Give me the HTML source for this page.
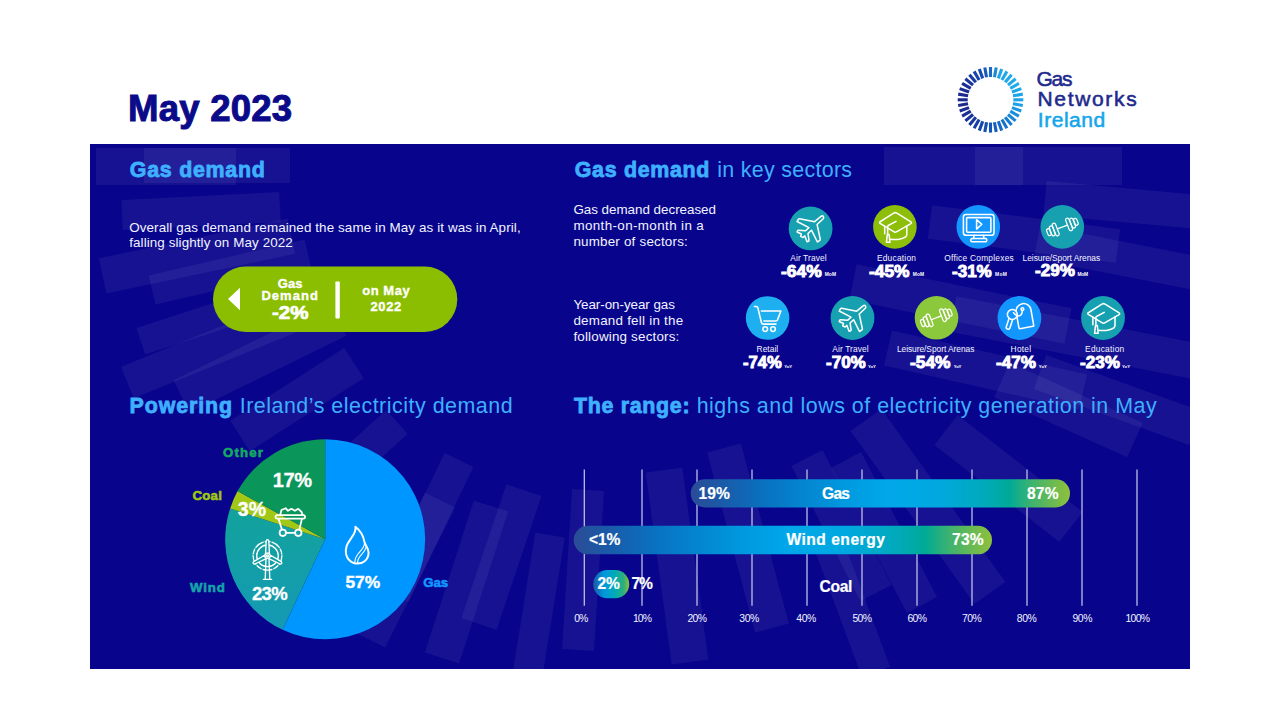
<!DOCTYPE html>
<html lang="en"><head><meta charset="utf-8"><title>May 2023 - Gas Networks Ireland</title>
<style>
html,body{margin:0;padding:0;background:#fff;}
body{width:1280px;height:720px;position:relative;overflow:hidden;font-family:"Liberation Sans",sans-serif;}
.t{position:absolute;white-space:nowrap;line-height:1;font-family:"Liberation Sans",sans-serif;}
#panel{position:absolute;left:90px;top:144px;width:1100px;height:525px;background:#08048c;overflow:hidden;}
svg{position:absolute;left:0;top:0;overflow:visible;}
</style></head><body>
<div id="panel">
<svg width="1100" height="525" viewBox="90 144 1100 525">
<g stroke="#fff" stroke-opacity="0.06" fill="none">
<line x1="96" y1="166.5" x2="236" y2="166.5" stroke-width="37"/>
<line x1="144" y1="165.5" x2="290" y2="165.5" stroke-width="35"/>
<line x1="122" y1="215" x2="280" y2="207" stroke-width="30"/>
<line x1="102.6" y1="275.9" x2="291.4" y2="236.1" stroke-width="36"/>
<line x1="152" y1="290" x2="308" y2="254" stroke-width="30"/>
<line x1="140.7" y1="341.2" x2="283.3" y2="294.8" stroke-width="28"/>
<line x1="127.3" y1="382.5" x2="312.7" y2="307.5" stroke-width="34"/>
<line x1="181.4" y1="396.4" x2="338.6" y2="319.6" stroke-width="36"/>
<line x1="240" y1="436" x2="354" y2="363" stroke-width="36"/>
<line x1="285.5" y1="522.4" x2="397" y2="422" stroke-width="32"/>
<line x1="394" y1="595" x2="459" y2="460" stroke-width="32"/>
<line x1="370" y1="640" x2="440" y2="500" stroke-width="34"/>
<line x1="479" y1="624" x2="524" y2="490" stroke-width="37"/>
<line x1="442" y1="658" x2="491" y2="506" stroke-width="36"/>
<line x1="578" y1="650" x2="588" y2="490" stroke-width="32"/>
<line x1="528" y1="672" x2="550" y2="535" stroke-width="30"/>
<line x1="664" y1="470" x2="690" y2="662" stroke-width="37"/>
<line x1="724" y1="448" x2="772" y2="628" stroke-width="35"/>
<line x1="807" y1="458" x2="876" y2="593" stroke-width="35"/>
<line x1="846" y1="460" x2="922" y2="605" stroke-width="34"/>
<line x1="830" y1="548" x2="876" y2="672" stroke-width="30"/>
<line x1="866" y1="420" x2="990" y2="593" stroke-width="38"/>
<line x1="946" y1="430" x2="1071" y2="527" stroke-width="38"/>
<line x1="1002" y1="380" x2="1135" y2="440" stroke-width="38"/>
<line x1="1040" y1="372" x2="1195" y2="428" stroke-width="36"/>
<line x1="888" y1="348" x2="1083" y2="392" stroke-width="36"/>
<line x1="953" y1="314" x2="1200" y2="362" stroke-width="36"/>
<line x1="853" y1="282" x2="1068" y2="326" stroke-width="36"/>
<line x1="1037" y1="242" x2="1200" y2="274" stroke-width="34"/>
<line x1="930" y1="222" x2="1118" y2="246" stroke-width="34"/>
<line x1="1045" y1="198" x2="1200" y2="212" stroke-width="34"/>
<line x1="975" y1="166" x2="1122" y2="166" stroke-width="38"/>
<line x1="884" y1="166" x2="1023" y2="166" stroke-width="38"/>
</g>
</svg>
</div>
<svg id="gfx" width="1280" height="720" viewBox="0 0 1280 720">
<rect x="-1.55" y="-32.8" width="3.1" height="10" fill="#1b69c6" transform="translate(990.5 99.8) rotate(0)"/>
<rect x="-1.55" y="-32.8" width="3.1" height="10" fill="#1e87d7" transform="translate(990.5 99.8) rotate(10)"/>
<rect x="-1.55" y="-32.8" width="3.1" height="10" fill="#20a5e8" transform="translate(990.5 99.8) rotate(20)"/>
<rect x="-1.55" y="-32.8" width="3.1" height="10" fill="#20a6e9" transform="translate(990.5 99.8) rotate(30)"/>
<rect x="-1.55" y="-32.8" width="3.1" height="10" fill="#1fa8ea" transform="translate(990.5 99.8) rotate(40)"/>
<rect x="-1.55" y="-32.8" width="3.1" height="10" fill="#1ea9eb" transform="translate(990.5 99.8) rotate(50)"/>
<rect x="-1.55" y="-32.8" width="3.1" height="10" fill="#1eaaec" transform="translate(990.5 99.8) rotate(60)"/>
<rect x="-1.55" y="-32.8" width="3.1" height="10" fill="#1ea8ea" transform="translate(990.5 99.8) rotate(70)"/>
<rect x="-1.55" y="-32.8" width="3.1" height="10" fill="#1da5e9" transform="translate(990.5 99.8) rotate(80)"/>
<rect x="-1.55" y="-32.8" width="3.1" height="10" fill="#1ca2e8" transform="translate(990.5 99.8) rotate(90)"/>
<rect x="-1.55" y="-32.8" width="3.1" height="10" fill="#1ca0e6" transform="translate(990.5 99.8) rotate(100)"/>
<rect x="-1.55" y="-32.8" width="3.1" height="10" fill="#1b97e1" transform="translate(990.5 99.8) rotate(110)"/>
<rect x="-1.55" y="-32.8" width="3.1" height="10" fill="#1a8edc" transform="translate(990.5 99.8) rotate(120)"/>
<rect x="-1.55" y="-32.8" width="3.1" height="10" fill="#1986d7" transform="translate(990.5 99.8) rotate(130)"/>
<rect x="-1.55" y="-32.8" width="3.1" height="10" fill="#187dd2" transform="translate(990.5 99.8) rotate(140)"/>
<rect x="-1.55" y="-32.8" width="3.1" height="10" fill="#1773cc" transform="translate(990.5 99.8) rotate(150)"/>
<rect x="-1.55" y="-32.8" width="3.1" height="10" fill="#1669c6" transform="translate(990.5 99.8) rotate(160)"/>
<rect x="-1.55" y="-32.8" width="3.1" height="10" fill="#155fbf" transform="translate(990.5 99.8) rotate(170)"/>
<rect x="-1.55" y="-32.8" width="3.1" height="10" fill="#1455b9" transform="translate(990.5 99.8) rotate(180)"/>
<rect x="-1.55" y="-32.8" width="3.1" height="10" fill="#144eb3" transform="translate(990.5 99.8) rotate(190)"/>
<rect x="-1.55" y="-32.8" width="3.1" height="10" fill="#1546ac" transform="translate(990.5 99.8) rotate(200)"/>
<rect x="-1.55" y="-32.8" width="3.1" height="10" fill="#163ea6" transform="translate(990.5 99.8) rotate(210)"/>
<rect x="-1.55" y="-32.8" width="3.1" height="10" fill="#1637a0" transform="translate(990.5 99.8) rotate(220)"/>
<rect x="-1.55" y="-32.8" width="3.1" height="10" fill="#17339b" transform="translate(990.5 99.8) rotate(230)"/>
<rect x="-1.55" y="-32.8" width="3.1" height="10" fill="#183096" transform="translate(990.5 99.8) rotate(240)"/>
<rect x="-1.55" y="-32.8" width="3.1" height="10" fill="#1a2c91" transform="translate(990.5 99.8) rotate(250)"/>
<rect x="-1.55" y="-32.8" width="3.1" height="10" fill="#1b288c" transform="translate(990.5 99.8) rotate(260)"/>
<rect x="-1.55" y="-32.8" width="3.1" height="10" fill="#1a298e" transform="translate(990.5 99.8) rotate(270)"/>
<rect x="-1.55" y="-32.8" width="3.1" height="10" fill="#1a2a91" transform="translate(990.5 99.8) rotate(280)"/>
<rect x="-1.55" y="-32.8" width="3.1" height="10" fill="#1a2c94" transform="translate(990.5 99.8) rotate(290)"/>
<rect x="-1.55" y="-32.8" width="3.1" height="10" fill="#192d96" transform="translate(990.5 99.8) rotate(300)"/>
<rect x="-1.55" y="-32.8" width="3.1" height="10" fill="#19349d" transform="translate(990.5 99.8) rotate(310)"/>
<rect x="-1.55" y="-32.8" width="3.1" height="10" fill="#183ca4" transform="translate(990.5 99.8) rotate(320)"/>
<rect x="-1.55" y="-32.8" width="3.1" height="10" fill="#1844ab" transform="translate(990.5 99.8) rotate(330)"/>
<rect x="-1.55" y="-32.8" width="3.1" height="10" fill="#184bb2" transform="translate(990.5 99.8) rotate(340)"/>
<rect x="-1.55" y="-32.8" width="3.1" height="10" fill="#1a5abc" transform="translate(990.5 99.8) rotate(350)"/>
<defs>
<linearGradient id="bg1" x1="0" y1="0" x2="1" y2="0">
<stop offset="0" stop-color="#2b4c96"/><stop offset="0.08" stop-color="#1a5aa8"/><stop offset="0.2" stop-color="#0873c2"/>
<stop offset="0.4" stop-color="#0098de"/><stop offset="0.52" stop-color="#00a8ea"/><stop offset="0.65" stop-color="#00a8e0"/>
<stop offset="0.78" stop-color="#00aab8"/><stop offset="0.84" stop-color="#00aa96"/><stop offset="0.9" stop-color="#3fb36e"/>
<stop offset="1" stop-color="#8fc03c"/>
</linearGradient>
<linearGradient id="bgc" x1="0" y1="0" x2="1" y2="0">
<stop offset="0" stop-color="#1e58a6"/><stop offset="0.3" stop-color="#0098de"/><stop offset="0.6" stop-color="#00aab8"/>
<stop offset="0.85" stop-color="#2fb078"/><stop offset="1" stop-color="#8fc03c"/>
</linearGradient>
<linearGradient id="wg" x1="0" y1="0" x2="0" y2="1">
<stop offset="0" stop-color="#12a39c"/><stop offset="1" stop-color="#1499b4"/>
</linearGradient>
</defs>

<!-- pill -->
<rect x="213" y="266.5" width="244.3" height="65.5" rx="32.75" fill="#8bbe00"/>
<path d="M228,299 L240,287.7 L240,310.3 Z" fill="#fff"/>
<rect x="335.4" y="281.4" width="4.4" height="37" rx="0.8" fill="#fff"/>

<!-- sector circles + icons -->
<g fill="none" stroke="#fff" stroke-width="1.55" stroke-linejoin="round" stroke-linecap="round">
<!-- 1 air travel -->
<g transform="translate(788.6 206.4)"><circle cx="22" cy="22" r="21.9" fill="#16a0b0" stroke="none"/><path d="M32.4,10 L26,15.3 L11,12.3 Q10.2,12.2 9.7,12.9 L8.5,15.1 L20.3,21.2 L17,24.3 L9.8,23.9 Q9.2,23.9 9,24.4 L8.5,25.6 L12.8,27.6 L12,30 L14.4,31.1 L16.2,29.5 L18.4,35.4 L19.9,34.9 Q20.5,34.6 20.4,34 L19.4,27.1 L22.9,23.8 L28.8,35.6 L31.2,34 Q31.8,33.6 31.7,32.9 L28.5,18.1 L34.6,12.3 Q35.6,10.9 34.6,9.8 Q33.6,8.9 32.4,10 Z"/></g>
<!-- 2 education -->
<g transform="translate(873.1 205.1)"><circle cx="21.8" cy="21.8" r="21.8" fill="#8cbe0a" stroke="none"/><g>
<path d="M20.6,8.1 Q22.2,7 23.8,8.1 L37.4,16.5 Q39.4,17.7 37.4,18.8 L23.8,26.6 Q22.2,27.6 20.6,26.6 L7.4,18.6 Q5.4,17.5 7.4,16.4 Z"/>
<path d="M33.7,21 L33.7,29.3 C33.7,33.2 24.5,35.2 17.4,34.2"/>
<path d="M11.6,21.2 L11.6,28.6"/>
<path d="M22.9,16.3 L15.2,20.4 Q14.6,20.8 14.6,21.6 L14.6,29.4"/>
<path d="M14.2,29.4 H16 L16.9,37.2 H13.3 Z"/>
</g></g>
<!-- 3 office -->
<g transform="translate(956.5 205.1)"><circle cx="21.8" cy="21.8" r="21.8" fill="#1496ff" stroke="none"/>
<rect x="6.9" y="9.4" width="30.6" height="20.8" rx="2.6"/><rect x="10.1" y="12.5" width="24.3" height="14.6" rx="1"/>
<path d="M20.1,14.6 L20.1,24 L25.3,19.2 Z"/><path d="M17.6,30.2 L17,33.3 M26.9,30.2 L27.5,33.3"/><rect x="14.4" y="33.3" width="15.8" height="3.4" rx="1"/></g>
<!-- 4 leisure -->
<g transform="translate(1040.5 205.1)"><circle cx="21.8" cy="21.8" r="21.8" fill="#16a0b0" stroke="none"/><g transform="translate(21.9 21.9) rotate(-21)" stroke-width="1.25">
<path d="M-5.4,0 H5.4"/>
<rect x="-8.9" y="-6.6" width="3.5" height="13.2" rx="1.75"/><rect x="5.4" y="-6.6" width="3.5" height="13.2" rx="1.75"/>
<rect x="-12.6" y="-5.2" width="3.4" height="10.4" rx="1.7"/><rect x="9.2" y="-5.2" width="3.4" height="10.4" rx="1.7"/>
<rect x="-16.1" y="-3.6" width="3.2" height="7.2" rx="1.6"/><rect x="12.9" y="-3.6" width="3.2" height="7.2" rx="1.6"/>
</g></g>
<!-- 5 retail -->
<g transform="translate(745.8 296.1)"><circle cx="21.8" cy="21.9" r="21.8" fill="#1eaff0" stroke="none"/>
<path d="M8.7,10.3 H10.6 Q11.7,10.3 12,11.5 L15.6,26.4 Q16,28 17.6,28 H30.2"/><path d="M15.6,14.9 H35.1 L31.6,24 Q31.3,24.9 30.2,24.9 H18.1"/>
<circle cx="19.4" cy="33" r="2.35"/><circle cx="27.2" cy="33" r="2.35"/></g>
<!-- 6 air travel -->
<g transform="translate(830.6 296.1)"><circle cx="21.9" cy="21.9" r="21.9" fill="#16a0b0" stroke="none"/><g transform="translate(0.1 -0.2)"><path d="M32.4,10 L26,15.3 L11,12.3 Q10.2,12.2 9.7,12.9 L8.5,15.1 L20.3,21.2 L17,24.3 L9.8,23.9 Q9.2,23.9 9,24.4 L8.5,25.6 L12.8,27.6 L12,30 L14.4,31.1 L16.2,29.5 L18.4,35.4 L19.9,34.9 Q20.5,34.6 20.4,34 L19.4,27.1 L22.9,23.8 L28.8,35.6 L31.2,34 Q31.8,33.6 31.7,32.9 L28.5,18.1 L34.6,12.3 Q35.6,10.9 34.6,9.8 Q33.6,8.9 32.4,10 Z"/></g></g>
<!-- 7 leisure -->
<g transform="translate(914.7 296)"><circle cx="21.8" cy="21.8" r="21.8" fill="#8cc83c" stroke="none"/><g transform="translate(-0.3 -0.1)"><g transform="translate(21.9 21.9) rotate(-21)" stroke-width="1.25">
<path d="M-5.4,0 H5.4"/>
<rect x="-8.9" y="-6.6" width="3.5" height="13.2" rx="1.75"/><rect x="5.4" y="-6.6" width="3.5" height="13.2" rx="1.75"/>
<rect x="-12.6" y="-5.2" width="3.4" height="10.4" rx="1.7"/><rect x="9.2" y="-5.2" width="3.4" height="10.4" rx="1.7"/>
<rect x="-16.1" y="-3.6" width="3.2" height="7.2" rx="1.6"/><rect x="12.9" y="-3.6" width="3.2" height="7.2" rx="1.6"/>
</g></g></g>
<!-- 8 hotel -->
<g transform="translate(997.4 296.1)"><circle cx="22" cy="21.9" r="21.9" fill="#1496ff" stroke="none"/>
<g transform="translate(29 31) rotate(-10)"><path d="M-7.5,-0.5 L-7.5,-16.3 A7.5,7.5 0 0 1 7.5,-16.3 L7.5,-0.5 Q7.5,0.4 6.6,0.4 L-6.6,0.4 Q-7.5,0.4 -7.5,-0.5 Z"/><circle cx="-0.8" cy="-18.4" r="1.35"/></g>
<g transform="translate(14.9 18.4) rotate(18)" fill="#1496ff"><rect x="-1.9" y="3" width="3.8" height="12.3" rx="1.7"/><circle cx="0" cy="0" r="4.9"/></g>
<path d="M24.8,14.4 C25.2,18.6 22.4,20.6 20,19.6 C18.2,18.8 17,17.6 16.2,16.6"/></g>
<!-- 9 education -->
<g transform="translate(1081.1 296.1)"><circle cx="21.9" cy="21.9" r="21.9" fill="#16a0b0" stroke="none"/><g transform="translate(0.2 0)"><g>
<path d="M20.6,8.1 Q22.2,7 23.8,8.1 L37.4,16.5 Q39.4,17.7 37.4,18.8 L23.8,26.6 Q22.2,27.6 20.6,26.6 L7.4,18.6 Q5.4,17.5 7.4,16.4 Z"/>
<path d="M33.7,21 L33.7,29.3 C33.7,33.2 24.5,35.2 17.4,34.2"/>
<path d="M11.6,21.2 L11.6,28.6"/>
<path d="M22.9,16.3 L15.2,20.4 Q14.6,20.8 14.6,21.6 L14.6,29.4"/>
<path d="M14.2,29.4 H16 L16.9,37.2 H13.3 Z"/>
</g></g></g>
</g>

<defs>
<path id="plane" d="M32.4,10 L26,15.3 L11,12.3 Q10.2,12.2 9.7,12.9 L8.5,15.1 L20.3,21.2 L17,24.3 L9.8,23.9 Q9.2,23.9 9,24.4 L8.5,25.6 L12.8,27.6 L12,30 L14.4,31.1 L16.2,29.5 L18.4,35.4 L19.9,34.9 Q20.5,34.6 20.4,34 L19.4,27.1 L22.9,23.8 L28.8,35.6 L31.2,34 Q31.8,33.6 31.7,32.9 L28.5,18.1 L34.6,12.3 Q35.6,10.9 34.6,9.8 Q33.6,8.9 32.4,10 Z"/>
<g id="cap">
<path d="M20.6,8.1 Q22.2,7 23.8,8.1 L37.4,16.5 Q39.4,17.7 37.4,18.8 L23.8,26.6 Q22.2,27.6 20.6,26.6 L7.4,18.6 Q5.4,17.5 7.4,16.4 Z"/>
<path d="M33.7,21 L33.7,29.3 C33.7,33.2 24.5,35.2 17.4,34.2"/>
<path d="M11.6,21.2 L11.6,28.6"/>
<path d="M22.9,16.3 L15.2,20.4 Q14.6,20.8 14.6,21.6 L14.6,29.4"/>
<path d="M14.2,29.4 H16 L16.9,37.2 H13.3 Z"/>
</g>
<g id="dumb" transform="translate(21.9 21.9) rotate(-21)" stroke-width="1.25">
<path d="M-5.4,0 H5.4"/>
<rect x="-8.9" y="-6.6" width="3.5" height="13.2" rx="1.75"/><rect x="5.4" y="-6.6" width="3.5" height="13.2" rx="1.75"/>
<rect x="-12.6" y="-5.2" width="3.4" height="10.4" rx="1.7"/><rect x="9.2" y="-5.2" width="3.4" height="10.4" rx="1.7"/>
<rect x="-16.1" y="-3.6" width="3.2" height="7.2" rx="1.6"/><rect x="12.9" y="-3.6" width="3.2" height="7.2" rx="1.6"/>
</g>
</defs>

<!-- bar chart -->
<g stroke="#c2c4ea" stroke-width="1.25">
<path d="M584.3,469.5V605.8 M642,469.5V605.8 M697,469.5V605.8 M752,469.5V605.8 M807,469.5V605.8 M862,469.5V605.8 M917,469.5V605.8 M972,469.5V605.8 M1027,469.5V605.8 M1082,469.5V605.8 M1137,469.5V605.8"/>
</g>
<rect x="690.7" y="479.3" width="379.3" height="28.2" rx="14.1" fill="url(#bg1)"/>
<rect x="573.7" y="525.8" width="418.3" height="28.5" rx="14.25" fill="url(#bg1)"/>
<rect x="593.2" y="570" width="36" height="28.3" rx="14.1" fill="url(#bgc)"/>
<!-- pie: centre 325.2,539.3 r 100 -->
<path d="M325.2,539.3 L325.2,439.3 A100,100 0 1 1 282.6,629.8 Z" fill="#0096ff"/>
<path d="M325.2,539.3 L282.6,629.8 A100,100 0 0 1 230.1,508.4 Z" fill="url(#wg)"/>
<path d="M325.2,539.3 L230.1,508.4 A100,100 0 0 1 237.6,491.1 Z" fill="#a0c814"/>
<path d="M325.2,539.3 L237.6,491.1 A100,100 0 0 1 325.2,439.3 Z" fill="#0a965a"/>
<g fill="none" stroke="#fff" stroke-width="1.5" stroke-linejoin="round" stroke-linecap="round">
<!-- flame -->
<path stroke-width="2" d="M355.4,526.8 C357.2,533.6 348.6,539.4 346.5,546.6 C344.2,554.6 348,562 355.4,563.4 C362.6,564.6 368.4,560 368.6,552.8 C368.7,548 365.3,545.6 364.4,541.8 C363.4,536.6 361,531 355.4,526.8 Z"/>
<path d="M364.6,542.6 C364.8,551.2 354.2,552.6 354.8,563 M366.2,546.4 C365.4,553.8 357,555.2 357.6,563.2" stroke-width="1.1"/>
<!-- coal cart -->
<g stroke-width="1.8">
<rect x="275.6" y="515.1" width="29.4" height="3.5" rx="1.6"/>
<path d="M280.3,514.6 L281.5,510 L285.6,508.2 L288,510.8 L291.4,508.8 L294.9,510.8 L298.3,508.8 L301.6,512 L302.5,514.6"/>
<path d="M278.6,518.9 L281.9,529.4 M301.9,518.9 L299.4,529.4 M286.4,532.8 H294.8"/>
<circle cx="282.8" cy="532.8" r="3.2"/><circle cx="298.3" cy="532.8" r="3.2"/>
</g>
<!-- wind turbine -->
<g stroke-width="1.35">
<circle cx="267.5" cy="555.8" r="14.4" stroke-dasharray="9 2 5 2"/>
<circle cx="267.5" cy="555.8" r="10.8"/>
<path d="M266,558.5 L265.2,579.2 M269,558.5 L269.8,579.2 M263.4,579.4 H271.6" />
<g fill="#139fa6">
<path id="blade" d="M265.6,553.4 L266.2,540.8 Q267.5,538.6 268.8,540.8 L269.4,553.4 Z"/>
<g transform="rotate(118 267.5 555.8)"><path d="M265.6,553.4 L266.2,540.8 Q267.5,538.6 268.8,540.8 L269.4,553.4 Z"/></g>
<g transform="rotate(-118 267.5 555.8)"><path d="M265.6,553.4 L266.2,540.8 Q267.5,538.6 268.8,540.8 L269.4,553.4 Z"/></g>
<circle cx="267.5" cy="555.8" r="2.6"/>
</g>
<circle cx="267.5" cy="555.8" r="1" />
</g>
</g>
</svg>
<span class="t" style="left:128.00px;top:91.22px;font-size:36.60px;letter-spacing:0.215px;color:#0b0b8a;font-weight:700;-webkit-text-stroke:1.0px #0b0b8a;">May 2023</span>
<span class="t" style="left:129.80px;top:159.68px;font-size:21.40px;letter-spacing:0.740px;color:#3eb0ff;font-weight:700;-webkit-text-stroke:0.8px #3eb0ff;">Gas demand</span>
<span class="t" style="left:574.80px;top:159.68px;font-size:21.40px;letter-spacing:0.684px;color:#3eb0ff;font-weight:700;-webkit-text-stroke:0.8px #3eb0ff;">Gas demand</span>
<span class="t" style="left:717.30px;top:159.68px;font-size:21.40px;letter-spacing:0.306px;color:#3eb0ff;">in key sectors</span>
<span class="t" style="left:129.60px;top:395.78px;font-size:21.40px;letter-spacing:0.883px;color:#3eb0ff;font-weight:700;-webkit-text-stroke:0.8px #3eb0ff;">Powering</span>
<span class="t" style="left:239.70px;top:395.78px;font-size:21.40px;letter-spacing:0.522px;color:#3eb0ff;">Ireland’s electricity demand</span>
<span class="t" style="left:574.10px;top:395.78px;font-size:21.40px;letter-spacing:0.678px;color:#3eb0ff;font-weight:700;-webkit-text-stroke:0.8px #3eb0ff;">The range:</span>
<span class="t" style="left:696.70px;top:395.78px;font-size:21.40px;letter-spacing:0.512px;color:#3eb0ff;">highs and lows of electricity generation in May</span>
<span class="t" style="left:129.20px;top:220.96px;font-size:13.40px;letter-spacing:0.107px;color:#f2f4ff;">Overall gas demand remained the same in May as it was in April,</span>
<span class="t" style="left:129.20px;top:235.76px;font-size:13.40px;letter-spacing:0.104px;color:#f2f4ff;">falling slightly on May 2022</span>
<span class="t" style="left:573.40px;top:203.26px;font-size:13.40px;letter-spacing:-0.017px;color:#f2f4ff;">Gas demand decreased</span>
<span class="t" style="left:573.40px;top:219.26px;font-size:13.40px;letter-spacing:0.380px;color:#f2f4ff;">month-on-month in a</span>
<span class="t" style="left:573.40px;top:235.26px;font-size:13.40px;letter-spacing:0.208px;color:#f2f4ff;">number of sectors:</span>
<span class="t" style="left:573.40px;top:298.06px;font-size:13.40px;letter-spacing:-0.046px;color:#f2f4ff;">Year-on-year gas</span>
<span class="t" style="left:573.40px;top:313.66px;font-size:13.40px;letter-spacing:0.236px;color:#f2f4ff;">demand fell in the</span>
<span class="t" style="left:573.40px;top:329.86px;font-size:13.40px;letter-spacing:0.190px;color:#f2f4ff;">following sectors:</span>
<span class="t" style="left:277.78px;top:276.70px;font-size:13.00px;letter-spacing:0.090px;color:#fff;font-weight:700;-webkit-text-stroke:0.35px #fff;">Gas</span>
<span class="t" style="left:261.38px;top:289.30px;font-size:13.00px;letter-spacing:1.053px;color:#fff;font-weight:700;-webkit-text-stroke:0.35px #fff;">Demand</span>
<span class="t" style="left:271.69px;top:303.89px;font-size:18.20px;letter-spacing:0.000px;color:#fff;font-weight:700;-webkit-text-stroke:0.7px #fff;transform:scaleX(1.1283);transform-origin:0 0;">-2%</span>
<span class="t" style="left:362.18px;top:283.70px;font-size:13.00px;letter-spacing:0.553px;color:#fff;font-weight:700;-webkit-text-stroke:0.35px #fff;">on May</span>
<span class="t" style="left:370.57px;top:299.90px;font-size:13.00px;letter-spacing:0.575px;color:#fff;font-weight:700;-webkit-text-stroke:0.35px #fff;">2022</span>
<span class="t" style="left:790.20px;top:254.29px;font-size:8.40px;letter-spacing:0.125px;color:#f2f4ff;">Air Travel</span>
<span class="t" style="left:781.39px;top:263.56px;font-size:16.00px;letter-spacing:0.000px;color:#fff;font-weight:700;-webkit-text-stroke:0.9px #fff;transform:scaleX(1.0878);transform-origin:0 0;">-64%</span>
<span class="t" style="left:824.70px;top:272.95px;font-size:4.90px;letter-spacing:0.071px;color:#fff;font-weight:700;">MoM</span>
<span class="t" style="left:876.90px;top:254.29px;font-size:8.40px;letter-spacing:0.230px;color:#f2f4ff;">Education</span>
<span class="t" style="left:869.49px;top:263.56px;font-size:16.00px;letter-spacing:0.000px;color:#fff;font-weight:700;-webkit-text-stroke:0.9px #fff;transform:scaleX(1.0851);transform-origin:0 0;">-45%</span>
<span class="t" style="left:912.80px;top:272.95px;font-size:4.90px;letter-spacing:0.021px;color:#fff;font-weight:700;">MoM</span>
<span class="t" style="left:944.30px;top:254.29px;font-size:8.40px;letter-spacing:0.231px;color:#f2f4ff;">Office Complexes</span>
<span class="t" style="left:951.98px;top:263.56px;font-size:16.00px;letter-spacing:0.000px;color:#fff;font-weight:700;-webkit-text-stroke:0.9px #fff;transform:scaleX(1.0642);transform-origin:0 0;">-31%</span>
<span class="t" style="left:995.10px;top:272.95px;font-size:4.90px;letter-spacing:0.271px;color:#fff;font-weight:700;">MoM</span>
<span class="t" style="left:1022.60px;top:253.59px;font-size:8.40px;letter-spacing:-0.039px;color:#f2f4ff;">Leisure/Sport Arenas</span>
<span class="t" style="left:1035.38px;top:263.16px;font-size:16.00px;letter-spacing:0.000px;color:#fff;font-weight:700;-webkit-text-stroke:0.9px #fff;transform:scaleX(1.0694);transform-origin:0 0;">-29%</span>
<span class="t" style="left:1077.40px;top:272.55px;font-size:4.90px;letter-spacing:-0.279px;color:#fff;font-weight:700;">MoM</span>
<span class="t" style="left:756.60px;top:345.19px;font-size:8.40px;letter-spacing:0.024px;color:#f2f4ff;">Retail</span>
<span class="t" style="left:743.37px;top:354.76px;font-size:16.00px;letter-spacing:0.000px;color:#fff;font-weight:700;-webkit-text-stroke:0.9px #fff;transform:scaleX(1.0355);transform-origin:0 0;">-74%</span>
<span class="t" style="left:784.20px;top:364.66px;font-size:4.30px;letter-spacing:-0.023px;color:#fff;font-weight:700;">YoY</span>
<span class="t" style="left:832.30px;top:345.19px;font-size:8.40px;letter-spacing:0.114px;color:#f2f4ff;">Air Travel</span>
<span class="t" style="left:825.88px;top:354.76px;font-size:16.00px;letter-spacing:0.000px;color:#fff;font-weight:700;-webkit-text-stroke:0.9px #fff;transform:scaleX(1.0642);transform-origin:0 0;">-70%</span>
<span class="t" style="left:868.10px;top:364.66px;font-size:4.30px;letter-spacing:-0.173px;color:#fff;font-weight:700;">YoY</span>
<span class="t" style="left:896.90px;top:345.19px;font-size:8.40px;letter-spacing:-0.039px;color:#f2f4ff;">Leisure/Sport Arenas</span>
<span class="t" style="left:910.39px;top:354.76px;font-size:16.00px;letter-spacing:0.000px;color:#fff;font-weight:700;-webkit-text-stroke:0.9px #fff;transform:scaleX(1.0851);transform-origin:0 0;">-54%</span>
<span class="t" style="left:953.80px;top:364.66px;font-size:4.30px;letter-spacing:-0.173px;color:#fff;font-weight:700;">YoY</span>
<span class="t" style="left:1010.60px;top:345.19px;font-size:8.40px;letter-spacing:0.249px;color:#f2f4ff;">Hotel</span>
<span class="t" style="left:995.78px;top:354.76px;font-size:16.00px;letter-spacing:0.000px;color:#fff;font-weight:700;-webkit-text-stroke:0.9px #fff;transform:scaleX(1.0668);transform-origin:0 0;">-47%</span>
<span class="t" style="left:1038.80px;top:364.66px;font-size:4.30px;letter-spacing:0.077px;color:#fff;font-weight:700;">YoY</span>
<span class="t" style="left:1085.10px;top:345.19px;font-size:8.40px;letter-spacing:0.230px;color:#f2f4ff;">Education</span>
<span class="t" style="left:1079.58px;top:354.76px;font-size:16.00px;letter-spacing:0.000px;color:#fff;font-weight:700;-webkit-text-stroke:0.9px #fff;transform:scaleX(1.0668);transform-origin:0 0;">-23%</span>
<span class="t" style="left:1122.00px;top:364.66px;font-size:4.30px;letter-spacing:0.077px;color:#fff;font-weight:700;">YoY</span>
<span class="t" style="left:223.10px;top:445.73px;font-size:13.20px;letter-spacing:1.149px;color:#14aa64;font-weight:700;-webkit-text-stroke:0.6px #14aa64;">Other</span>
<span class="t" style="left:192.50px;top:489.13px;font-size:13.20px;letter-spacing:0.265px;color:#a0c814;font-weight:700;-webkit-text-stroke:0.6px #a0c814;">Coal</span>
<span class="t" style="left:190.10px;top:580.83px;font-size:13.20px;letter-spacing:0.886px;color:#14a5aa;font-weight:700;-webkit-text-stroke:0.6px #14a5aa;">Wind</span>
<span class="t" style="left:423.30px;top:576.23px;font-size:13.20px;letter-spacing:-0.074px;color:#1496ff;font-weight:700;-webkit-text-stroke:0.6px #1496ff;">Gas</span>
<span class="t" style="left:272.75px;top:470.27px;font-size:20.00px;letter-spacing:-0.410px;color:#fff;font-weight:700;-webkit-text-stroke:0.3px #fff;">17%</span>
<span class="t" style="left:237.65px;top:499.69px;font-size:19.50px;letter-spacing:0.222px;color:#fff;font-weight:700;-webkit-text-stroke:0.3px #fff;">3%</span>
<span class="t" style="left:251.95px;top:584.94px;font-size:18.50px;letter-spacing:-0.609px;color:#fff;font-weight:700;-webkit-text-stroke:0.3px #fff;">23%</span>
<span class="t" style="left:345.50px;top:573.67px;font-size:17.40px;letter-spacing:-0.109px;color:#fff;font-weight:700;-webkit-text-stroke:0.4px #fff;">57%</span>
<span class="t" style="left:698.40px;top:486.09px;font-size:15.60px;letter-spacing:0.142px;color:#fff;font-weight:700;-webkit-text-stroke:0.2px #fff;">19%</span>
<span class="t" style="left:822.10px;top:485.79px;font-size:15.60px;letter-spacing:-0.842px;color:#fff;font-weight:700;-webkit-text-stroke:0.2px #fff;">Gas</span>
<span class="t" style="left:1026.90px;top:486.09px;font-size:15.60px;letter-spacing:0.292px;color:#fff;font-weight:700;-webkit-text-stroke:0.2px #fff;">87%</span>
<span class="t" style="left:588.90px;top:531.99px;font-size:15.60px;letter-spacing:-0.076px;color:#fff;font-weight:700;-webkit-text-stroke:0.2px #fff;">&lt;1%</span>
<span class="t" style="left:786.40px;top:531.99px;font-size:15.60px;letter-spacing:0.502px;color:#fff;font-weight:700;-webkit-text-stroke:0.2px #fff;">Wind energy</span>
<span class="t" style="left:952.10px;top:532.19px;font-size:15.60px;letter-spacing:0.192px;color:#fff;font-weight:700;-webkit-text-stroke:0.2px #fff;">73%</span>
<span class="t" style="left:597.60px;top:575.79px;font-size:15.60px;letter-spacing:-0.242px;color:#fff;font-weight:700;-webkit-text-stroke:0.2px #fff;">2%</span>
<span class="t" style="left:631.40px;top:575.79px;font-size:15.60px;letter-spacing:-1.042px;color:#fff;font-weight:700;-webkit-text-stroke:0.2px #fff;">7%</span>
<span class="t" style="left:819.40px;top:578.59px;font-size:15.60px;letter-spacing:-0.268px;color:#fff;font-weight:700;-webkit-text-stroke:0.2px #fff;">Coal</span>
<span class="t" style="left:574.30px;top:614.20px;font-size:10.40px;letter-spacing:-1.028px;color:#f2f4ff;">0%</span>
<span class="t" style="left:633.00px;top:614.20px;font-size:10.40px;letter-spacing:-0.905px;color:#f2f4ff;">10%</span>
<span class="t" style="left:687.50px;top:614.20px;font-size:10.40px;letter-spacing:-0.655px;color:#f2f4ff;">20%</span>
<span class="t" style="left:739.30px;top:614.20px;font-size:10.40px;letter-spacing:-0.405px;color:#f2f4ff;">30%</span>
<span class="t" style="left:796.30px;top:614.20px;font-size:10.40px;letter-spacing:-0.405px;color:#f2f4ff;">40%</span>
<span class="t" style="left:852.50px;top:614.20px;font-size:10.40px;letter-spacing:-0.655px;color:#f2f4ff;">50%</span>
<span class="t" style="left:907.50px;top:614.20px;font-size:10.40px;letter-spacing:-0.655px;color:#f2f4ff;">60%</span>
<span class="t" style="left:962.00px;top:614.20px;font-size:10.40px;letter-spacing:-0.505px;color:#f2f4ff;">70%</span>
<span class="t" style="left:1016.80px;top:614.20px;font-size:10.40px;letter-spacing:-0.405px;color:#f2f4ff;">80%</span>
<span class="t" style="left:1072.50px;top:614.20px;font-size:10.40px;letter-spacing:-0.405px;color:#f2f4ff;">90%</span>
<span class="t" style="left:1125.50px;top:614.20px;font-size:10.40px;letter-spacing:-0.701px;color:#f2f4ff;">100%</span>
<span class="t" style="left:1036.48px;top:68.22px;font-size:21.00px;letter-spacing:-1.232px;color:#1e2a8c;-webkit-text-stroke:0.55px #1e2a8c;">Gas</span>
<span class="t" style="left:1037.48px;top:88.42px;font-size:21.00px;letter-spacing:1.675px;color:#1e2a8c;-webkit-text-stroke:0.55px #1e2a8c;">Networks</span>
<span class="t" style="left:1037.78px;top:109.22px;font-size:21.00px;letter-spacing:0.539px;color:#14a5eb;-webkit-text-stroke:0.55px #14a5eb;">Ireland</span>
</body></html>
